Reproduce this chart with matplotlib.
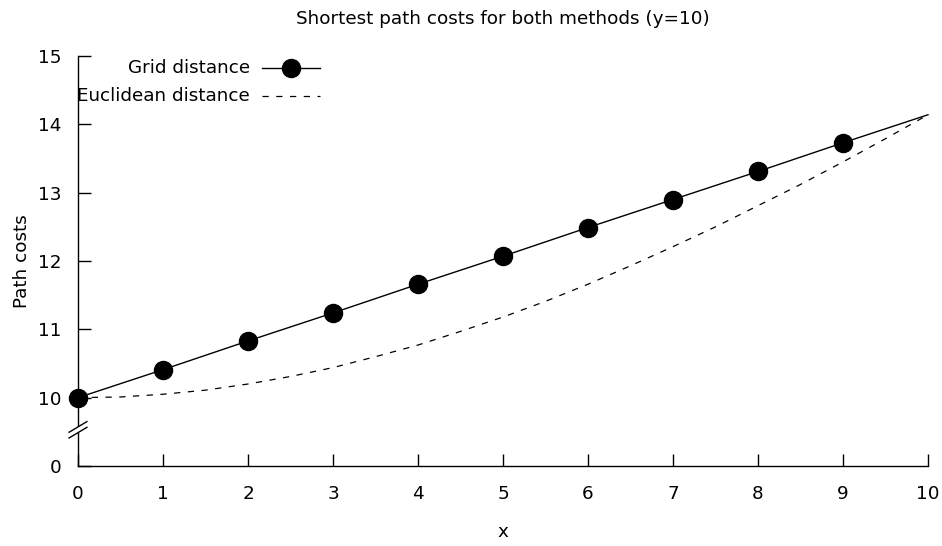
import matplotlib
matplotlib.use("Agg")
import matplotlib.pyplot as plt
from matplotlib.patches import Rectangle

# Data
grid_x = [0, 1, 2, 3, 4, 5, 6, 7, 8, 9, 10]
grid_cost = [10.0, 10.41, 10.83, 11.24, 11.66, 12.07, 12.49, 12.90, 13.31, 13.73, 14.14]
eucl_x = [0, 0.5, 1, 1.5, 2, 2.5, 3, 3.5, 4, 4.5, 5, 5.5, 6, 6.5, 7, 7.5, 8, 8.5, 9, 9.5, 10]
eucl_cost = [10.0, 10.01, 10.05, 10.11, 10.20, 10.31, 10.44, 10.60, 10.77, 10.97, 11.18,
             11.41, 11.66, 11.93, 12.21, 12.50, 12.81, 13.12, 13.45, 13.79, 14.14]
x_ticks = [0, 1, 2, 3, 4, 5, 6, 7, 8, 9, 10]
y_ticks = [9, 10, 11, 12, 13, 14, 15]
y_tick_labels = ["0", "10", "11", "12", "13", "14", "15"]

plt.rcParams['font.family'] = ['DejaVu Sans']
fs = 13.2

fig = plt.figure(figsize=(9.42, 5.46), dpi=100)
ax = fig.add_axes([78/942, 1-466/546, (928-78)/942, (466-56)/546])

ax.plot(grid_x, grid_cost, color='black', lw=1.0, marker='o', markersize=13,
        markevery=list(range(10)), clip_on=False, zorder=3)
ax.plot(eucl_x, eucl_cost, color='black', lw=0.9, linestyle=(0, (5, 6)), clip_on=False, zorder=2)

ax.set_xlim(0, 10)
ax.set_ylim(9, 15)
ax.set_xticks(x_ticks)
ax.set_yticks(y_ticks)
ax.set_yticklabels(y_tick_labels)
ax.tick_params(direction='in', length=9, width=1, labelsize=fs)
ax.tick_params(axis='y', pad=12)
ax.tick_params(axis='x', pad=14)
for s in ['top', 'right']:
    ax.spines[s].set_visible(False)
for s in ['left', 'bottom']:
    ax.spines[s].set_linewidth(1.0)

ax.set_title("Shortest path costs for both methods (y=10)", fontsize=fs, pad=23)
ax.set_xlabel("x", fontsize=fs, labelpad=14)
ax.set_ylabel("Path costs", fontsize=fs, labelpad=5)

# axis break marks
tr = ax.transAxes
yb = (9.53 - 9) / 6
ax.add_patch(Rectangle((-0.005, yb - 0.006), 0.01, 0.012, transform=tr,
                       facecolor='white', edgecolor='none', clip_on=False, zorder=4))
for dy in (-0.007, 0.007):
    ax.plot([-0.0105, 0.0105], [yb + dy - 0.013, yb + dy + 0.013], transform=tr,
            color='black', lw=1.0, clip_on=False, zorder=5)

# manual legend (right-aligned labels)
def fx(px):
    return (px - 78) / 850
def fy(py):
    return (466 - py) / 410

ax.text(fx(250), fy(68), "Grid distance", transform=tr, ha='right', va='center', fontsize=fs)
ax.plot([fx(262), fx(320)], [fy(68), fy(68)], transform=tr, color='black', lw=1.0, clip_on=False)
ax.plot([fx(291)], [fy(68)], transform=tr, color='black', marker='o', markersize=13, clip_on=False)
ax.text(fx(250), fy(96), "Euclidean distance", transform=tr, ha='right', va='center', fontsize=fs)
ax.plot([fx(262), fx(320)], [fy(96), fy(96)], transform=tr, color='black', lw=0.9,
        linestyle=(0, (5, 6)), clip_on=False)

fig.savefig("out.png", dpi=100)
